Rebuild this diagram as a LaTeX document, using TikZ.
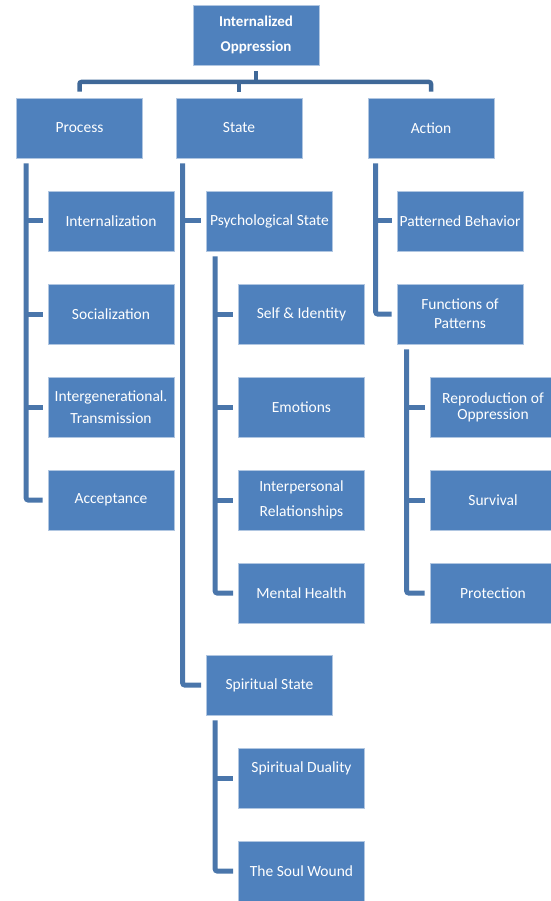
\documentclass[tikz,border=0pt]{standalone}
\usepackage{fontspec}
\setmainfont{Carlito}
\definecolor{boxblue}{HTML}{4F81BD}
\definecolor{lineblue}{HTML}{4A76AB}
\definecolor{barblue}{HTML}{3F6898}
\tikzset{
  box/.style={rectangle, fill=boxblue, draw=boxblue!45!white, line width=0.6pt,
    text=white, minimum width=126pt, minimum height=60pt, inner sep=1pt,
    align=center, font=\fontsize{15.5}{19}\selectfont},
  headbox/.style={box, font=\fontsize{15}{19}\selectfont\bfseries},
  link/.style={draw=lineblue, line width=5pt, rounded corners=2pt},
  bar/.style={draw=barblue, line width=4.5pt, rounded corners=2pt}
}
\begin{document}
\begin{tikzpicture}[x=1pt,y=-1pt]
\useasboundingbox (0,0) rectangle (550,901);

% Top of the tree
\node[headbox] (top) at (256,35) {Internalized\\[6pt]Oppression};

% Level one
\node[box] (process) at (79.5,128) {Process};
\node[box] (state) at (239,128) {State};
\node[box] (action) at (431,128) {Action};

% Process column
\node[box] (intern) at (111,221) {Internalization};
\node[box] (social) at (111,314) {Socialization};
\node[box] (intergen) at (111,407) {Intergenerational.\\[3pt]Transmission};
\node[box] (accept) at (111,500) {Acceptance};

% State column
\node[box] (psych) at (269.5,221) {Psychological State};
\node[box] (self) at (301.5,314) {Self \& Identity};
\node[box] (emotion) at (301.5,407) {Emotions};
\node[box] (interpers) at (301.5,500) {Interpersonal\\[6pt]Relationships};
\node[box] (mental) at (301.5,593) {Mental Health};
\node[box] (spirit) at (269.5,685) {Spiritual State};
\node[box] (duality) at (301.5,778) {Spiritual Duality\\[3pt]\mbox{}};
\node[box] (wound) at (301.5,871) {The Soul Wound};

% Action column
\node[box] (pattern) at (460,221) {Patterned Behavior};
\node[box] (function) at (460,314) {Functions of\\Patterns};
\node[box] (reprod) at (493,407) {Reproduction of\\[-3pt]Oppression};
\node[box] (survive) at (493,500) {Survival};
\node[box] (protect) at (493,593) {Protection};

% Bar under the top box
\coordinate (hub) at (256,82);
\draw[bar] ([yshift=-6pt]top.south) -- (hub);
\draw[bar] ([yshift=6pt]process.north) |- (hub) -| ([yshift=6pt]action.north);
\draw[bar] ([yshift=6pt]state.north) -- (state.north |- hub);

% Process lines
\coordinate (pcol) at ([xshift=10pt,yshift=-5pt]process.south west);
\draw[link] (pcol) |- ([xshift=-5pt]accept.west);
\foreach \n in {intern,social,intergen}
  \draw[link] (pcol |- \n.west) -- ([xshift=-5pt]\n.west);

% State lines
\coordinate (scol) at ([xshift=7pt,yshift=-5pt]state.south west);
\draw[link] (scol) |- ([xshift=-5pt]spirit.west);
\draw[link] (scol |- psych.west) -- ([xshift=-5pt]psych.west);

\coordinate (pscol) at ([xshift=9pt,yshift=-5pt]psych.south west);
\draw[link] (pscol) |- ([xshift=-5pt]mental.west);
\foreach \n in {self,emotion,interpers}
  \draw[link] (pscol |- \n.west) -- ([xshift=-5pt]\n.west);

\coordinate (sscol) at ([xshift=9pt,yshift=-5pt]spirit.south west);
\draw[link] (sscol) |- ([xshift=-5pt]wound.west);
\draw[link] (sscol |- duality.west) -- ([xshift=-5pt]duality.west);

% Action lines
\coordinate (acol) at ([xshift=8pt,yshift=-5pt]action.south west);
\draw[link] (acol) |- ([xshift=-5pt]function.west);
\draw[link] (acol |- pattern.west) -- ([xshift=-5pt]pattern.west);

\coordinate (fcol) at ([xshift=10pt,yshift=-5pt]function.south west);
\draw[link] (fcol) |- ([xshift=-5pt]protect.west);
\foreach \n in {reprod,survive}
  \draw[link] (fcol |- \n.west) -- ([xshift=-5pt]\n.west);
\end{tikzpicture}
\end{document}
